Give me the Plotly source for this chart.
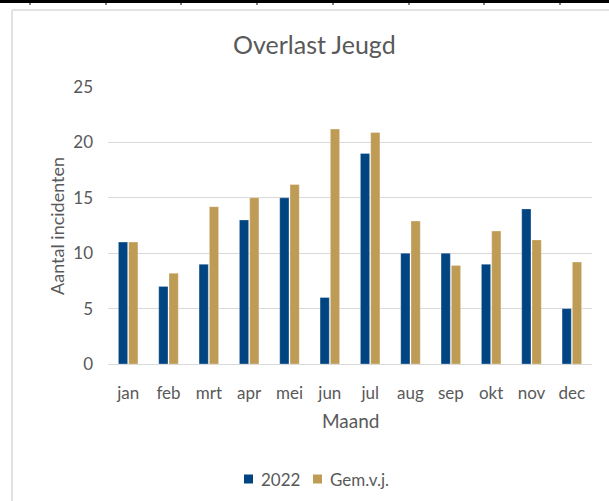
import plotly.graph_objects as go

months = ["jan", "feb", "mrt", "apr", "mei", "jun", "jul", "aug", "sep", "okt", "nov", "dec"]
vals_2022 = [11, 7, 9, 13, 15, 6, 19, 10, 10, 9, 14, 5]
vals_gem = [11, 8.2, 14.2, 15, 16.2, 21.2, 20.9, 12.9, 8.9, 12, 11.2, 9.2]
y_ticks = [0, 5, 10, 15, 20, 25]
series_names = ["2022", "Gem.v.j."]
series_colors = ["#004481", "#BE9C55"]

W, H = 609, 501
L, R, T, B = 108, 592, 87, 364  # plot area in pixels


def px(x):
    return (x - L) / (R - L)


def py(y):
    return (B - y) / (B - T)


FONT = "Lato"
GREY = "#595959"

fig = go.Figure()
for name, vals, col in zip(series_names, [vals_2022, vals_gem], series_colors):
    fig.add_trace(go.Bar(name=name, x=months, y=vals, marker_color=col,
                         marker_line=dict(color="rgba(255,255,255,0.5)", width=0.6)))

shapes = []
# outer chart frame
shapes.append(dict(type="line", xref="paper", yref="paper", x0=px(12), x1=px(12), y0=py(10), y1=py(W),
                   line=dict(color="#D9D9D9", width=1.5)))
shapes.append(dict(type="line", xref="paper", yref="paper", x0=px(12), x1=px(W + 5), y0=py(10), y1=py(10),
                   line=dict(color="#D9D9D9", width=1.5)))
# top black border with cell ticks
shapes.append(dict(type="line", xref="paper", yref="paper", x0=px(-5), x1=px(W + 5), y0=py(1.5), y1=py(1.5),
                   line=dict(color="black", width=3)))
for tx in [30, 106, 181, 257, 333, 409, 484, 560]:
    shapes.append(dict(type="line", xref="paper", yref="paper", x0=px(tx), x1=px(tx), y0=py(0), y1=py(5),
                       line=dict(color="black", width=1)))

annotations = [
    dict(text="Overlast Jeugd", xref="paper", yref="paper", x=px(314), y=py(44), showarrow=False,
         xanchor="center", yanchor="middle", font=dict(family=FONT, size=25, color=GREY)),
    dict(text="Maand", xref="paper", yref="paper", x=px(351), y=py(420), showarrow=False,
         xanchor="center", yanchor="middle", font=dict(family=FONT, size=19, color=GREY)),
    dict(text="Aantal incidenten", xref="paper", yref="paper", x=px(57), y=py(226), showarrow=False,
         textangle=-90, xanchor="center", yanchor="middle", font=dict(family=FONT, size=18, color=GREY)),
]

# legend (drawn below the chart)
leg_y = 479
leg_items = [(244, 259), (313, 328)]
for (sx, tx), name, col in zip(leg_items, series_names, series_colors):
    shapes.append(dict(type="rect", xref="paper", yref="paper", x0=px(sx), x1=px(sx + 9),
                       y0=py(leg_y - 4.5), y1=py(leg_y + 4.5), fillcolor=col, line=dict(width=0)))
    annotations.append(dict(text=name, xref="paper", yref="paper", x=px(tx), y=py(leg_y), showarrow=False,
                            xanchor="left", yanchor="middle", font=dict(family=FONT, size=17, color=GREY)))

fig.update_layout(
    width=W, height=H,
    margin=dict(l=L, r=W - R, t=T, b=H - B, pad=0),
    paper_bgcolor="white", plot_bgcolor="white",
    barmode="group", bargap=0.49, bargroupgap=0.1,
    font=dict(family=FONT, size=17, color=GREY),
    showlegend=False,
    shapes=shapes,
    annotations=annotations,
)
fig.update_xaxes(showgrid=False, showline=True, linecolor="#D9D9D9", linewidth=1, ticks="",
                 ticklabelstandoff=14, tickfont=dict(family=FONT, size=17, color=GREY))
fig.update_yaxes(range=[0, 25], tickvals=y_ticks, showgrid=True, gridcolor="#D9D9D9", gridwidth=1,
                 zeroline=False, showline=False, ticks="", ticklabelstandoff=14,
                 tickfont=dict(family=FONT, size=17, color=GREY))

fig.write_html("out.html", config={"displayModeBar": False},
               post_script="document.body.style.margin='0px';")
